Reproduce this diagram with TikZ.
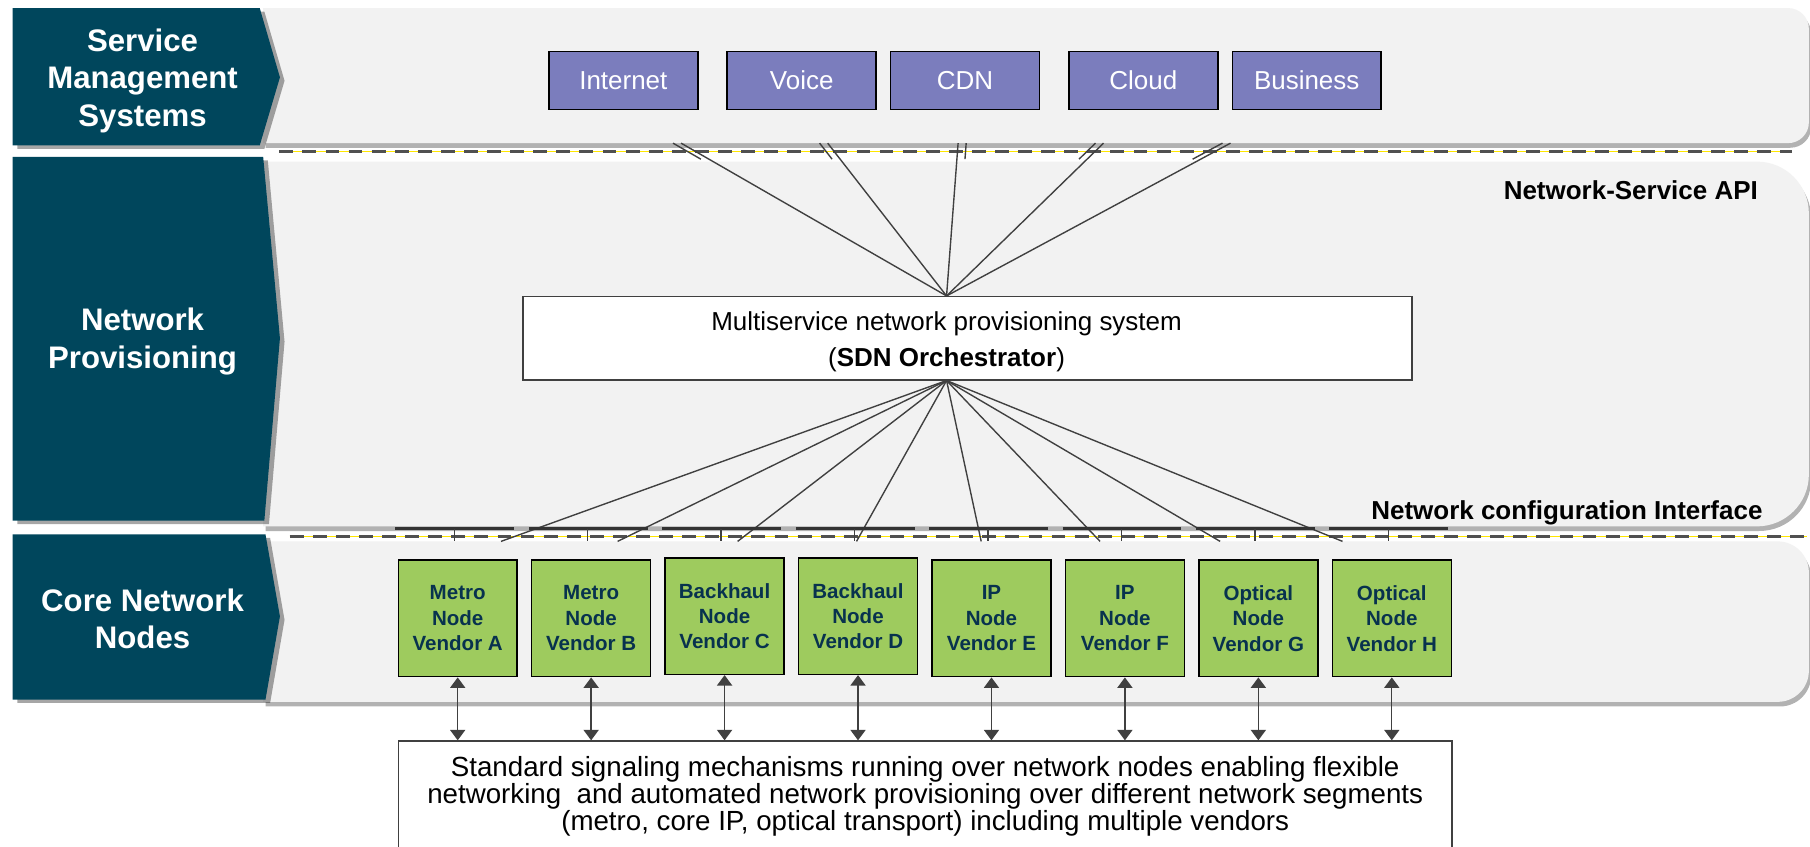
\documentclass[tikz,border=0pt]{standalone}
\usepackage{fontspec}
\setmainfont{Liberation Sans}
\usetikzlibrary{shadows,arrows.meta,calc}
\definecolor{bandteal}{RGB}{0,70,92}
\definecolor{panelgray}{RGB}{242,242,242}
\definecolor{svcpurple}{RGB}{123,125,189}
\definecolor{vendgreen}{RGB}{158,203,94}
\definecolor{vendtext}{RGB}{8,50,78}
\definecolor{linegray}{RGB}{64,64,64}
\definecolor{dashgray}{RGB}{80,80,80}
\definecolor{apiyellow}{RGB}{255,230,0}
\tikzset{
  panel/.style={fill=panelgray,drop shadow={shadow xshift=2pt,shadow yshift=-4pt,opacity=0.3,fill=black}},
  chev/.style={fill=bandteal,drop shadow={shadow xshift=4pt,shadow yshift=-3pt,opacity=0.35,fill=black}},
  chevtext/.style={text=white,align=center,inner sep=0,font=\bfseries\fontsize{27}{32.5}\selectfont},
  svc/.style={draw=black,line width=1.3pt,fill=svcpurple,text=white,minimum width=129,minimum height=50,inner sep=0,font=\fontsize{22.5}{27}\selectfont},
  vend/.style={draw=black,line width=1.3pt,fill=vendgreen,text=vendtext,minimum width=103,minimum height=101,inner sep=0,align=center,font=\bfseries\fontsize{17.8}{22}\selectfont},
  conn/.style={draw=linegray,line width=1.2pt},
  apidash/.style={draw=dashgray,line width=2.8pt,dash pattern=on 12pt off 8pt},
  apiline/.style={draw=apiyellow,line width=0.8pt},
  ifbar/.style={draw=black!80,line width=2.5pt},
  lbl/.style={inner sep=0,font=\bfseries\fontsize{22.5}{27}\selectfont},
  whitebox/.style={draw=linegray,line width=1.3pt,fill=white},
  dbl/.style={conn,{Triangle[width=13pt,length=9pt]}-{Triangle[width=13pt,length=9pt]}}
}
\begin{document}
\begin{tikzpicture}[x=1pt,y=-1pt]
\useasboundingbox (0,0) rectangle (1568,733);
\clip (0,0) rectangle (1568,733);
\fill[white] (0,0) rectangle (1568,733);
% panels
\path[panel] (228,7) -- (1549,7) arc[start angle=-90,end angle=0,radius=18] -- (1567,106) arc[start angle=0,end angle=90,radius=18] -- (228,124) -- cycle;
\path[panel] (228,140) -- (1522,140) arc[start angle=-90,end angle=0,radius=45] -- (1567,411) arc[start angle=0,end angle=90,radius=45] -- (228,456) -- cycle;
\path[panel] (228,469) -- (1540,469) arc[start angle=-90,end angle=0,radius=27] -- (1567,581) arc[start angle=0,end angle=90,radius=27] -- (228,608) -- cycle;
% chevrons
\path[chev] (11,7) -- (225,7) -- (242.5,67) -- (225,126) -- (11,126) -- cycle;
\path[chev] (11,136) -- (228,136) -- (242.5,293) -- (229,451) -- (11,451) -- cycle;
\path[chev] (11,463) -- (230,463) -- (242.5,534) -- (230,606) -- (11,606) -- cycle;
\node[chevtext] (sms) at (123.5,70) {Service\\Management\\Systems};
\node[chevtext] (np) at (123.5,296) {Network\\Provisioning};
\node[chevtext] (cnn) at (123.5,536) {Core Network\\Nodes};
% API lines
\draw[apiline] (242,131.5) -- (1552,131.5);
\draw[apidash] (242,131) -- (1552,131);
\draw[apiline] (251,465) -- (1565,465);
\draw[apidash] (251,464.5) -- (1565,464.5);
\node[lbl,anchor=base east] (nsapi) at (1523,173) {Network-Service API};
\node[lbl,anchor=base east] (nci) at (1527,450) {Network configuration Interface};
% services
\node[svc] (inet) at (540,69.7) {Internet};
\node[svc] (voice) at (694.5,69.7) {Voice};
\node[svc] (cdn) at (836,69.7) {CDN};
\node[svc] (cloud) at (990.5,69.7) {Cloud};
\node[svc] (biz) at (1132,69.7) {Business};
% orchestrator
\node[whitebox,minimum width=770,minimum height=72,inner sep=0] (orch) at (838,293) {};
\node[inner sep=0,align=center,font=\fontsize{22.5}{30.5}\selectfont] (orchtext) at (820,296) {Multiservice network provisioning system\\(\textbf{SDN Orchestrator})};
\coordinate (otop) at (orch.north -| orchtext.center);
\coordinate (obot) at (orch.south -| orchtext.center);
% upper connectors with break marks
\foreach \xx/\dd [count=\i] in {590/-7,717/-7,830/7,956/-7,1066/-7} {
  \coordinate (t\i) at (\xx,124);
  \draw[conn] (otop) -- (t\i);
  \draw[conn] ($(t\i)+(\dd,0)$) -- ($(t\i)!0.105!(otop)+(\dd,0)$);
}
% lower connectors
\foreach \xx [count=\i] in {434,535,639,742,850,953,1057,1163} {
  \coordinate (b\i) at (\xx,469);
  \draw[conn] (obot) -- (b\i);
}
% vendor nodes
\foreach \n/\lab/\dy [count=\i from 0] in {A/Metro/0,B/Metro/0,C/Backhaul/-2,D/Backhaul/-2,E/IP/0,F/IP/0,G/Optical/0,H/Optical/0} {
  \node[vend] (v\n) at ({396.5+115.6*\i},{535.7+\dy}) {\lab\\Node\\Vendor \n};
  \draw[ifbar] ({396.5+115.6*\i-54},458) -- ({396.5+115.6*\i+49},458);
  \draw[conn] ({396.5+115.6*\i-3},458) -- ({396.5+115.6*\i-3},469);
}
% signaling box
\node[whitebox,minimum width=913,minimum height=96,inner sep=0,align=center,font=\fontsize{24}{23.2}\selectfont] (sig) at (801.5,690) {Standard signaling mechanisms running over network nodes enabling flexible\\networking\ \ and automated network provisioning over different network segments\\(metro, core IP, optical transport) including multiple vendors};
\foreach \n in {A,...,H} {
  \draw[dbl] (v\n.south) -- (v\n.south |- sig.north);
}
\end{tikzpicture}
\end{document}
